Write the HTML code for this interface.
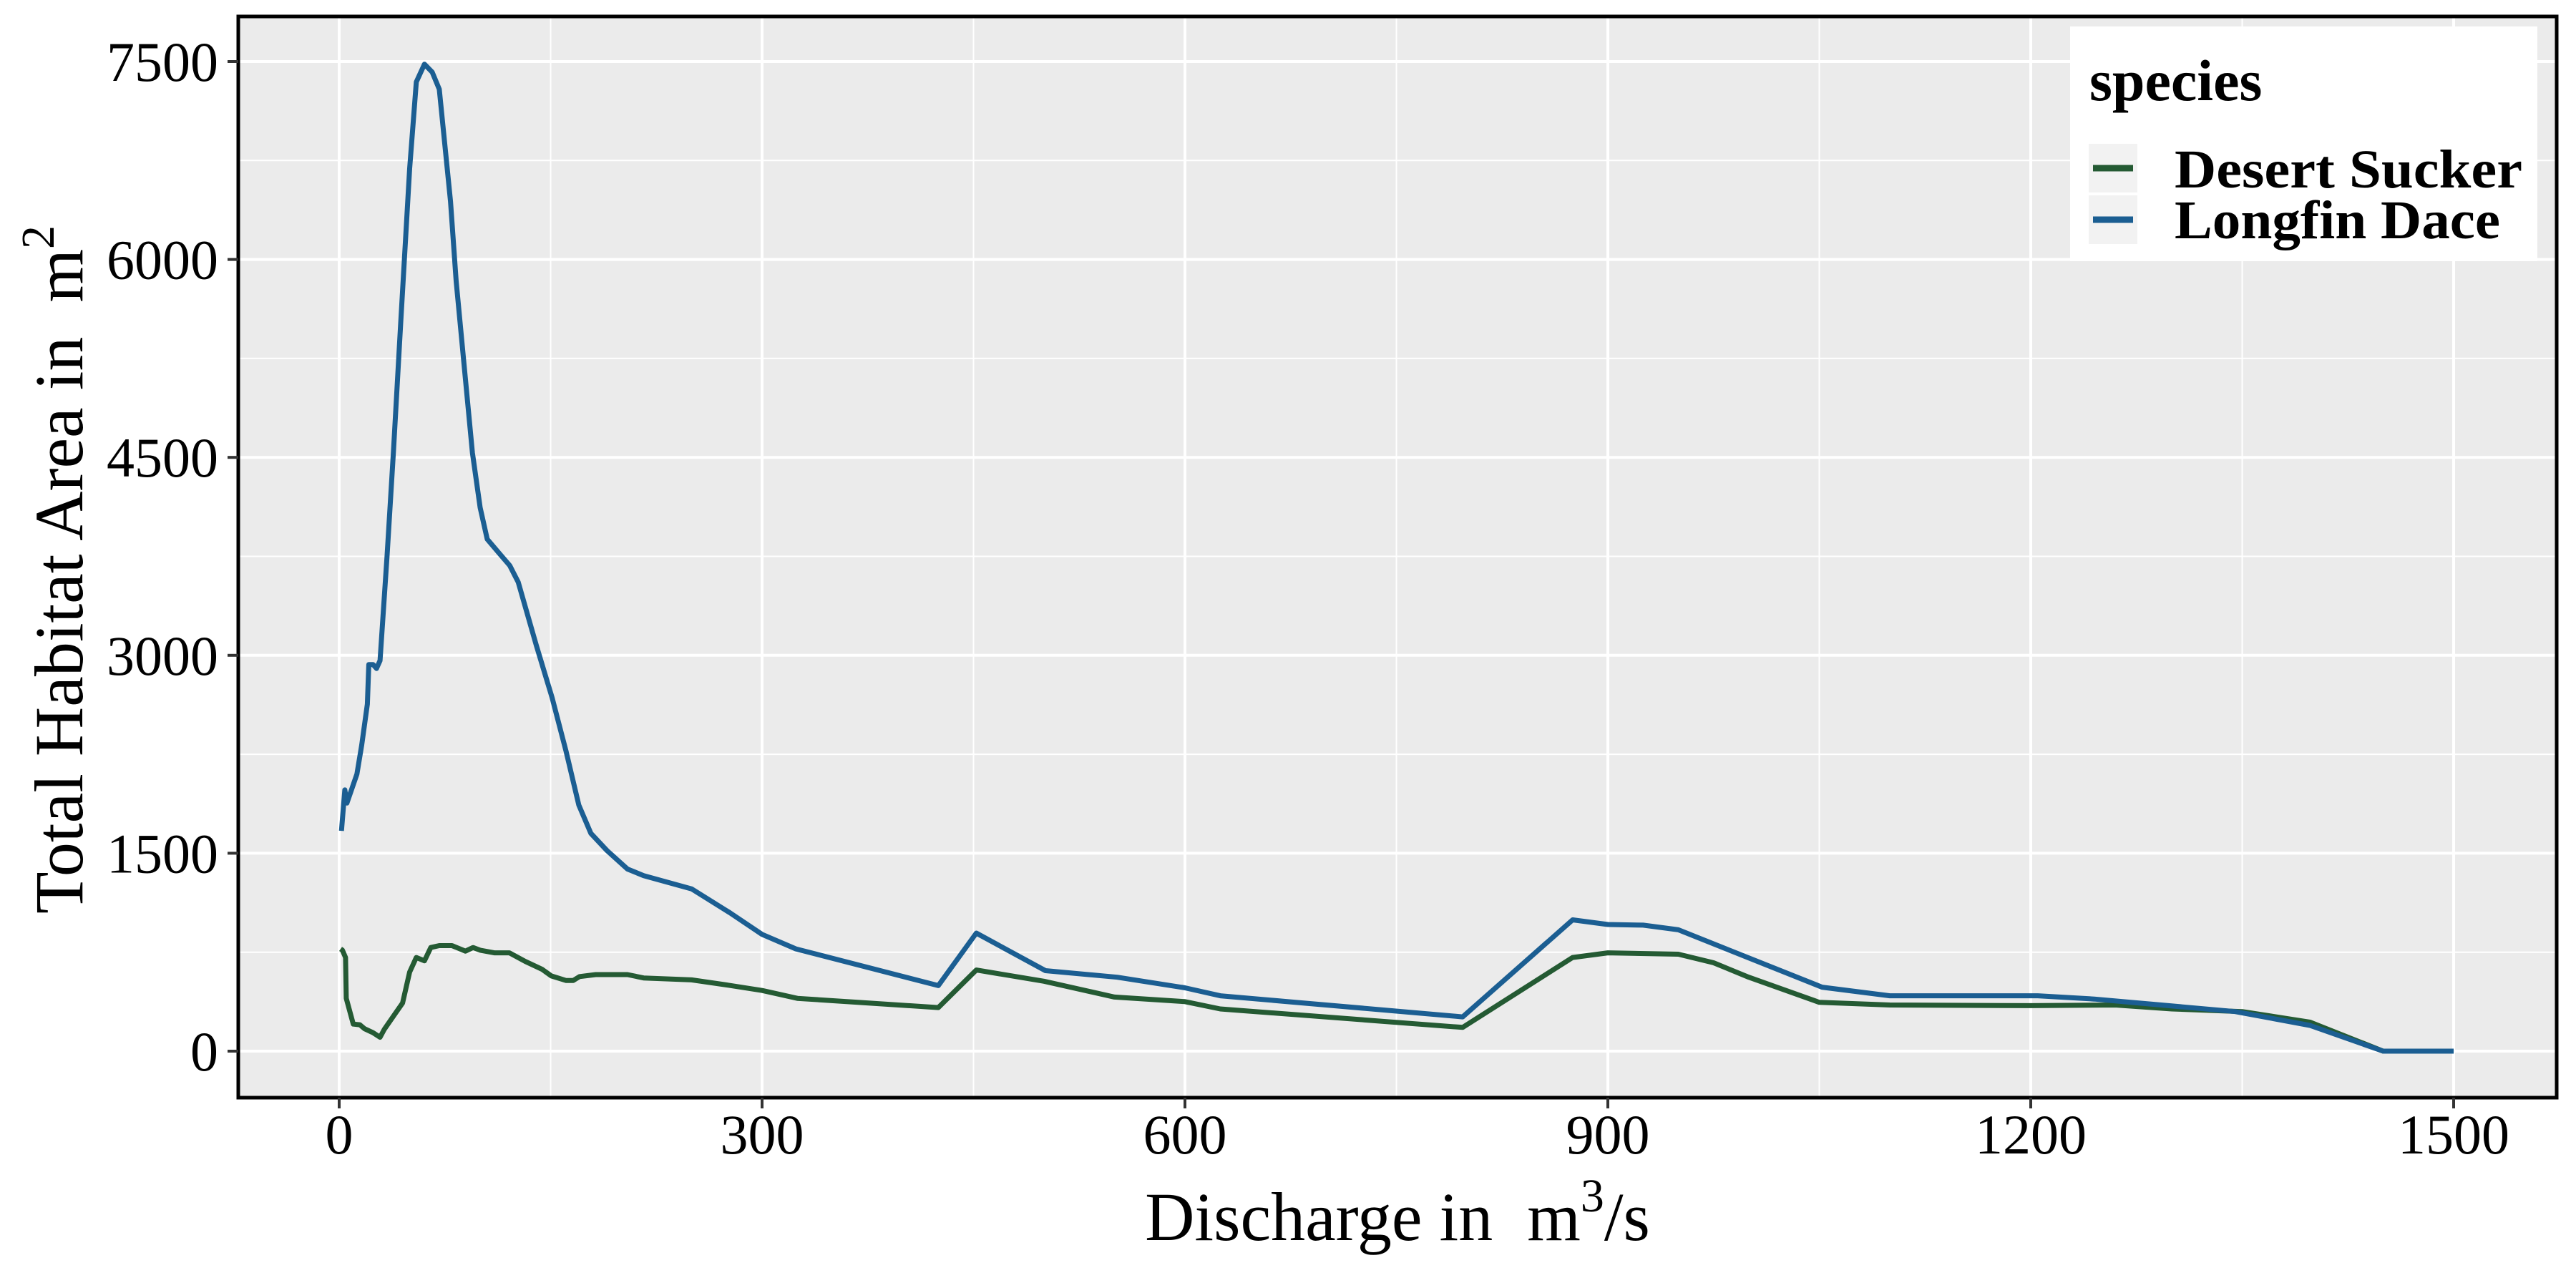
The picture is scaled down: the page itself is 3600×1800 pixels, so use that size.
<!DOCTYPE html>
<html><head><meta charset="utf-8"><style>
html,body{margin:0;padding:0;background:#fff;}
svg{display:block;font-family:"Liberation Serif",serif;}
.pre{white-space:pre;}
</style></head><body>
<svg id="chart" width="3600" height="1800" viewBox="0 0 3600 1800" xmlns="http://www.w3.org/2000/svg">
<rect x="333" y="23" width="3240" height="1511" fill="#ebebeb"/>
<g id="grid"></g>
<g id="series"></g>
<rect x="333" y="23" width="3240" height="1511" fill="none" stroke="#000" stroke-width="5"/>
<g id="axes"></g>
<text class="pre" x="1953" y="1733" font-size="96" text-anchor="middle" xml:space="preserve">Discharge in  m<tspan dy="-40" font-size="66">3</tspan><tspan dy="40">/s</tspan></text>
<text class="pre" transform="translate(115,796) rotate(-90)" font-size="96" text-anchor="middle" xml:space="preserve">Total Habitat Area in  m<tspan dy="-40" font-size="66">2</tspan></text>
<g>
<rect x="2893" y="37" width="653" height="328" fill="#fff"/>
<text x="2920" y="140" font-size="82" font-weight="bold">species</text>
<rect x="2919" y="201" width="68" height="68" fill="#f2f2f2"/>
<rect x="2919" y="273" width="68" height="68" fill="#f2f2f2"/>
<line x1="2925" x2="2981" y1="235" y2="235" stroke="#245a33" stroke-width="9"/>
<line x1="2925" x2="2981" y1="307" y2="307" stroke="#1b5e92" stroke-width="9"/>
<text x="3039" y="262" font-size="76" font-weight="bold" textLength="486" lengthAdjust="spacingAndGlyphs">Desert Sucker</text>
<text x="3039" y="333" font-size="76" font-weight="bold" textLength="455" lengthAdjust="spacingAndGlyphs">Longfin Dace</text>
</g>
</svg>
<script>
const xTicks=[0,300,600,900,1200,1500];
const xMinor=[150,450,750,1050,1350];
const yTicks=[0,1500,3000,4500,6000,7500];
const yMinor=[750,2250,3750,5250,6750];
const daceX=[1.6,4,5.5,12.6,16,20,21,24,26.5,29,34,38.5,43.7,50,54.7,60.5,66,71,74,79,83,89.6,94.5,100,105,113,121,127,140,151,161,170,178.6,190,204.5,216,250,277,300,324,425,452,501,552,600,625,797,875,900,925,950,1052,1100,1170,1205,1245,1345,1398,1450,1500];
const daceY=[1670,1980,1880,2100,2320,2630,2930,2930,2900,2960,3760,4540,5530,6690,7345,7480,7420,7290,6970,6440,5835,5090,4535,4120,3880,3780,3680,3555,3070,2680,2270,1865,1650,1520,1380,1330,1230,1050,885,775,497,895,610,560,480,420,260,995,960,955,920,485,420,420,420,395,300,195,0,0];
const suckerX=[1,2.3,4.5,5,10,14.6,18,24,29,32,38.5,45,50,54.7,60.5,65,71,80,89.6,95,100,110,120.7,132,144,150.5,161,166,170.5,182,204.5,216,250,276,300,325,425,452,500,550,600,625,797,875,900,950,975,1000,1050,1100,1200,1260,1300,1350,1398,1450,1500];
const suckerY=[775,765,710,400,205,200,170,140,105,165,265,365,600,710,685,785,800,800,758,785,765,745,745,680,620,570,535,535,565,580,580,555,540,500,460,400,330,615,530,410,375,320,180,710,745,735,670,560,370,350,345,350,320,300,220,0,0];
const NS='http://www.w3.org/2000/svg';
const sx=v=>474+v*(591/300);
const sy=v=>1469-v*(1383/7500);
function mk(tag,attrs,parent){const e=document.createElementNS(NS,tag);for(const k in attrs)e.setAttribute(k,attrs[k]);parent.appendChild(e);return e;}
const grid=document.getElementById('grid'),axes=document.getElementById('axes'),ser=document.getElementById('series');
yMinor.forEach(v=>{const l=mk('line',{x1:333,x2:3573,y1:sy(v),y2:sy(v),stroke:'#fff','stroke-width':2},grid);

});
xMinor.forEach(v=>{const l=mk('line',{x1:sx(v),x2:sx(v),y1:23,y2:1534,stroke:'#fff','stroke-width':2},grid);

});
yTicks.forEach(v=>{const l=mk('line',{x1:333,x2:3573,y1:sy(v),y2:sy(v),stroke:'#fff','stroke-width':4},grid);


const t=mk('line',{x1:318,x2:333,y1:sy(v),y2:sy(v),stroke:'#333','stroke-width':4},axes);


const tx=mk('text',{x:305,y:sy(v)+27,'font-size':78,'text-anchor':'end'},axes);tx.textContent=v;

});
xTicks.forEach(v=>{const l=mk('line',{x1:sx(v),x2:sx(v),y1:23,y2:1534,stroke:'#fff','stroke-width':4},grid);


const t=mk('line',{x1:sx(v),x2:sx(v),y1:1534,y2:1549,stroke:'#333','stroke-width':4},axes);


const tx=mk('text',{x:sx(v),y:1612,'font-size':78,'text-anchor':'middle'},axes);tx.textContent=v;

});
function line(xs,ys,color,name){const d=xs.map((x,i)=>(i?'L':'M')+sx(x).toFixed(1)+' '+sy(ys[i]).toFixed(1)).join(' ');
const p=mk('path',{d:d,fill:'none',stroke:color,'stroke-width':7,'stroke-linejoin':'round'},ser);

}
line(suckerX,suckerY,'#245a33','desert-sucker-line');
line(daceX,daceY,'#1b5e92','longfin-dace-line');
</script>
</body></html>
